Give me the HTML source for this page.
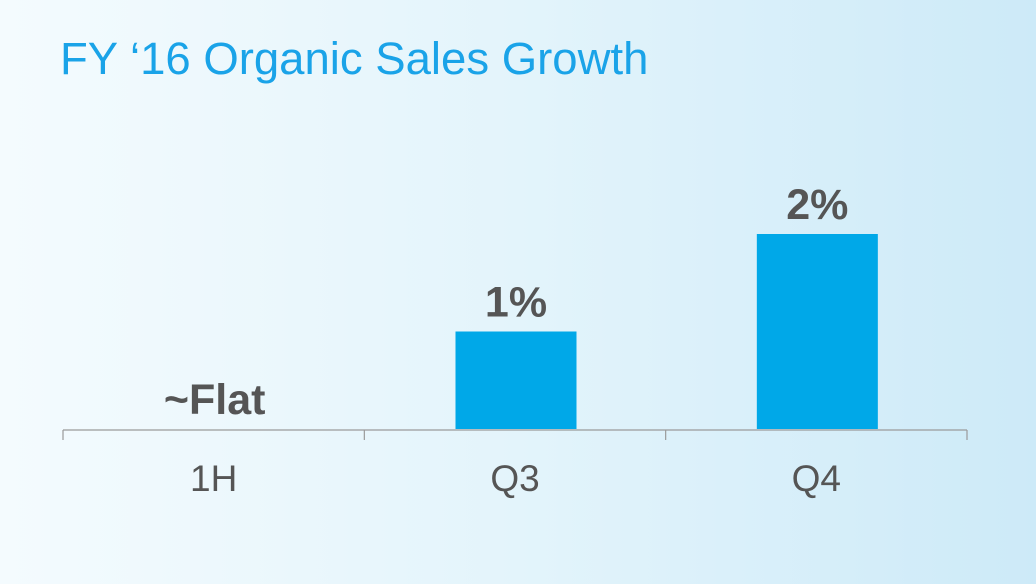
<!DOCTYPE html>
<html><head><meta charset="utf-8"><style>
html,body{margin:0;padding:0}
body{width:1036px;height:579px;overflow:hidden;background:linear-gradient(90deg,#f4fbfe 0%,#e3f4fb 50%,#cdeaf8 100%);font-family:"Liberation Sans",Arial,sans-serif}
</style></head><body>
<svg id="chart" width="1036" height="579" xmlns="http://www.w3.org/2000/svg">
<text x="60" y="74" font-family="Liberation Sans, Arial, sans-serif" font-size="45.5" fill="#1aa3e8">FY ‘16 Organic Sales Growth</text>
<g id="plot"></g>
</svg>
<script>
const categories = ["1H","Q3","Q4"];
const values = [0,1,2];
const valueLabels = ["~Flat","1%","2%"];

const ns="http://www.w3.org/2000/svg";
const g=document.getElementById('plot');
const x0=63,x1=967,baseY=429,pxPerUnit=97.5;
const bandW=(x1-x0)/categories.length, barW=121;
function xCenter(i){return x0+bandW*(i+0.5);}
function yScale(v){return baseY-v*pxPerUnit;}
function mk(tag,attrs){const e=document.createElementNS(ns,tag);for(const k in attrs)e.setAttribute(k,attrs[k]);g.appendChild(e);return e;}

const axis=mk('line',{x1:x0,x2:x1,y1:baseY+1,y2:baseY+1,stroke:'#9a9a9a','stroke-width':1.2});


for(let i=0;i<=categories.length;i++){
  const t=mk('line',{x1:x0+bandW*i,x2:x0+bandW*i,y1:baseY+1,y2:baseY+11,stroke:'#9a9a9a','stroke-width':1.2});
  
  
}
categories.forEach((c,i)=>{
  const cx=xCenter(i);
  if(values[i]>0){
    const r=mk('rect',{x:cx-barW/2+1,y:yScale(values[i]),width:barW,height:baseY-yScale(values[i]),fill:'#00a8e8'});
    
    
  }
  const v=mk('text',{x:cx+1,y:yScale(values[i])-15,'text-anchor':'middle','font-size':43,'font-weight':'bold',fill:'#555555'});
  v.textContent=valueLabels[i];
  
  
  const l=mk('text',{x:cx,y:491,'text-anchor':'middle','font-size':37,fill:'#555555'});
  l.textContent=c;
  
  
});
</script>
</body></html>
